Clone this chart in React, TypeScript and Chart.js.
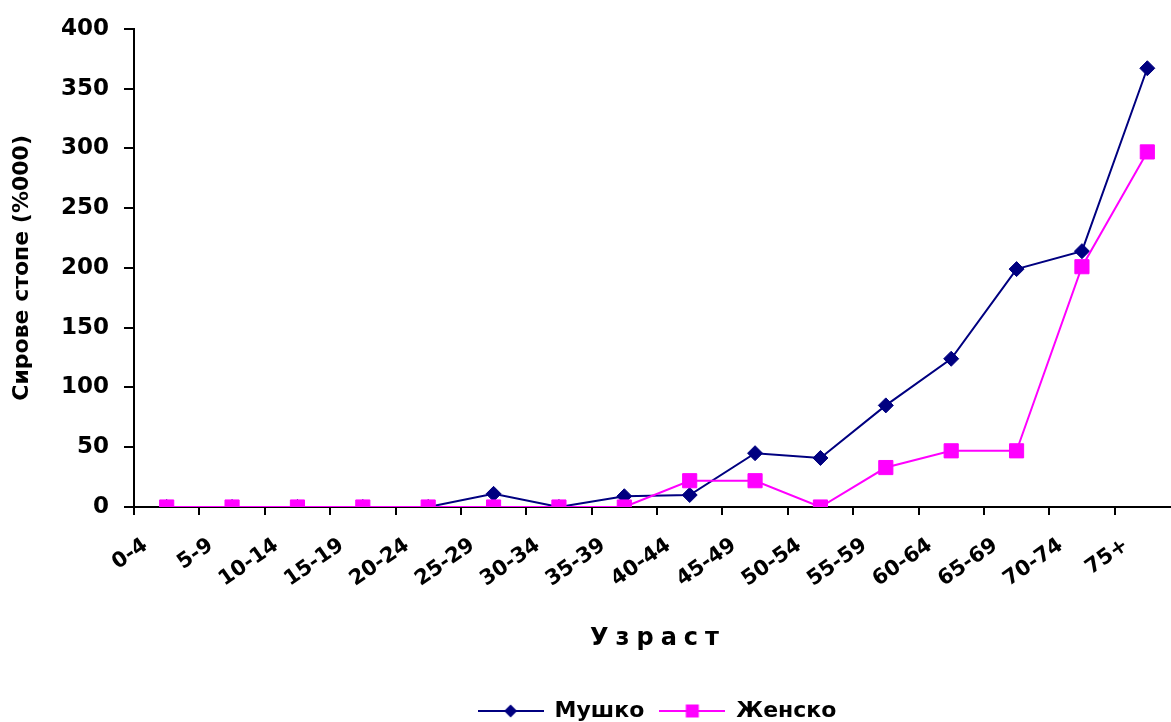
import React, { useEffect, useRef } from 'react';
import { Chart, registerables } from 'chart.js';

Chart.register(...registerables);

// Age groups on the category axis
const ageGroups = ['0-4', '5-9', '10-14', '15-19', '20-24', '25-29', '30-34', '35-39', '40-44', '45-49', '50-54', '55-59', '60-64', '65-69', '70-74', '75+'];

// Crude rates per 100 000
const maleRates = [0, 0, 0, 0, 0, 11, 0, 9, 10, 45, 41, 85, 124, 199, 214, 367];
const femaleRates = [0, 0, 0, 0, 0, 0, 0, 0, 22, 22, 0, 33, 47, 47, 201, 297];

const seriesNames = ['Мушко', 'Женско'];
const yAxisTitle = 'Сирове стопе (%000)';
const xAxisTitle = 'Узраст';

const yMin = 0;
const yMax = 400;
const yStep = 50;

const FONT = '"DejaVu Sans", sans-serif';
const MALE_COLOR = '#000080';
const FEMALE_COLOR = '#FF00FF';

// Small line-with-marker glyph for legend entries
function legendGlyph(color: string, shape: 'diamond' | 'square'): HTMLCanvasElement {
  const c = document.createElement('canvas');
  c.width = 66;
  c.height = 20;
  const ctx = c.getContext('2d')!;
  ctx.strokeStyle = color;
  ctx.fillStyle = color;
  ctx.lineWidth = 2;
  ctx.beginPath();
  ctx.moveTo(0, 10);
  ctx.lineTo(66, 10);
  ctx.stroke();
  ctx.beginPath();
  if (shape === 'diamond') {
    ctx.moveTo(33, 3.5);
    ctx.lineTo(39.5, 10);
    ctx.lineTo(33, 16.5);
    ctx.lineTo(26.5, 10);
    ctx.closePath();
  } else {
    ctx.rect(26.5, 3.5, 13, 13);
  }
  ctx.fill();
  return c;
}

// Letter-spaced title under the category axis
const spacedAxisTitle = {
  id: 'spacedAxisTitle',
  afterDraw(chart: any) {
    const { ctx, chartArea } = chart;
    ctx.save();
    ctx.font = `bold 24px ${FONT}`;
    (ctx as any).letterSpacing = '7px';
    ctx.fillStyle = '#000';
    ctx.textAlign = 'center';
    ctx.textBaseline = 'alphabetic';
    ctx.fillText(xAxisTitle, (chartArea.left + chartArea.right) / 2 + 1, chartArea.bottom + 138);
    ctx.restore();
  },
};

export default function App() {
  const canvasRef = useRef<HTMLCanvasElement | null>(null);

  useEffect(() => {
    const canvas = canvasRef.current;
    if (!canvas) return;
    const glyphs = [legendGlyph(MALE_COLOR, 'diamond'), legendGlyph(FEMALE_COLOR, 'square')];
    const yTickFont = { family: FONT, size: 23, weight: 'bold' as const };
    const xTickFont = { family: FONT, size: 21, weight: 'bold' as const };
    const legendFont = { family: FONT, size: 22, weight: 'bold' as const };

    const chart = new Chart(canvas, {
      type: 'line',
      data: {
        labels: ageGroups,
        datasets: [
          {
            label: seriesNames[0],
            data: maleRates,
            borderColor: MALE_COLOR,
            backgroundColor: MALE_COLOR,
            borderWidth: 2,
            pointStyle: 'rectRot',
            pointRadius: 7.5,
            pointBorderWidth: 1,
            tension: 0,
            order: 1,
          },
          {
            label: seriesNames[1],
            data: femaleRates,
            borderColor: FEMALE_COLOR,
            backgroundColor: FEMALE_COLOR,
            borderWidth: 2,
            pointStyle: 'rect',
            pointRadius: 10,
            pointBorderWidth: 1,
            tension: 0,
            order: 0,
          },
        ],
      },
      options: {
        responsive: false,
        animation: false,
        layout: { padding: { left: 0, right: 20, top: 25, bottom: 0 } },
        plugins: {
          tooltip: { enabled: false },
          legend: {
            position: 'bottom',
            fullSize: false,
            labels: {
              usePointStyle: true,
              pointStyleWidth: 66,
              padding: 15,
              color: '#000',
              font: legendFont,
              sort: (a: any, b: any) => a.datasetIndex - b.datasetIndex,
              generateLabels: (c: any) => {
                const items = (Chart.defaults.plugins.legend.labels as any).generateLabels(c);
                items.forEach((it: any) => {
                  it.pointStyle = glyphs[it.datasetIndex];
                });
                return items;
              },
            },
          },
        },
        scales: {
          x: {
            offset: true,
            grid: { offset: true, drawOnChartArea: false, tickLength: 8, color: '#000', lineWidth: 2 },
            border: { color: '#000', width: 2 },
            ticks: {
              autoSkip: false,
              minRotation: 35,
              maxRotation: 35,
              color: '#000',
              font: xTickFont,
              padding: 18,
              labelOffset: -21,
            },
            afterFit: (s: any) => {
              s.height = 178;
            },
          },
          y: {
            min: yMin,
            max: yMax,
            ticks: { stepSize: yStep, color: '#000', font: yTickFont, padding: 15 },
            grid: { drawOnChartArea: false, tickLength: 10, color: '#000', lineWidth: 2 },
            border: { color: '#000', width: 2 },
            title: {
              display: true,
              text: yAxisTitle,
              color: '#000',
              font: { family: FONT, size: 22, weight: 'bold' as const },
              padding: { top: 9, bottom: 0 },
            },
            afterFit: (s: any) => {
              s.width = 134;
            },
          },
        },
      },
      plugins: [spacedAxisTitle],
    });

    return () => chart.destroy();
  }, []);

  return (
    <div
      style={{
        position: 'fixed',
        left: 0,
        top: 0,
        width: 1171,
        height: 722,
        overflow: 'hidden',
        background: '#fff',
      }}
    >
      <canvas ref={canvasRef} width={1200} height={732} style={{ display: 'block' }} />
    </div>
  );
}
